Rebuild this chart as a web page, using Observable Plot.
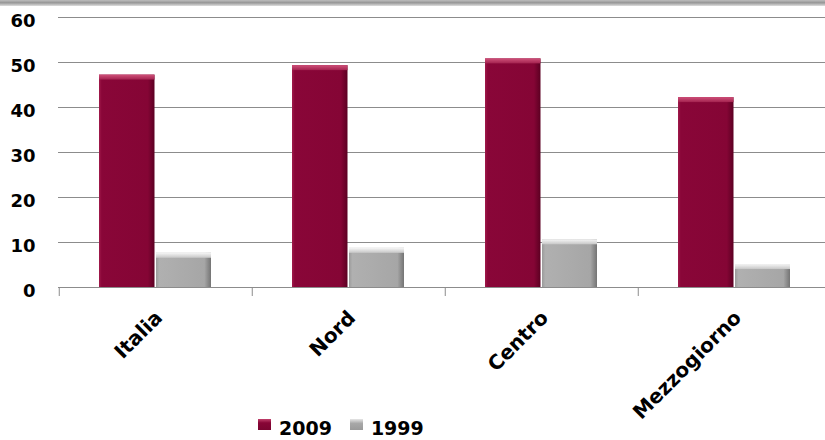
<!DOCTYPE html>
<html>
<head>
<meta charset="utf-8">
<script src="https://cdn.jsdelivr.net/npm/d3@7"></script>
<script src="https://cdn.jsdelivr.net/npm/@observablehq/plot@0.6"></script>
<style>
  body { margin: 0; background: #fff; width: 825px; height: 440px; overflow: hidden; position: relative; font-family: "DejaVu Sans", sans-serif; }
  #chart { position: absolute; left: 0; top: 0; }
  #topband { position: absolute; left: 0; top: 0; width: 825px; height: 6px; background: linear-gradient(#bdbdbd, #979797 45%, #dedede); }
  #legend { position: absolute; left: 258px; top: 419px; display: flex; align-items: flex-start; }
  .sw { width: 13px; height: 11px; margin-top: 0px; margin-right: 8px; }
  .lt { font-weight: bold; font-size: 19px; line-height: 19px; color: #000; margin-right: 18px; }
</style>
</head>
<body>
<svg width="0" height="0" style="position:absolute">
  <defs>
    <linearGradient id="g2009" x1="0" x2="1" y1="0" y2="0">
      <stop offset="0" stop-color="#a01a4b"/>
      <stop offset="0.05" stop-color="#890638"/>
      <stop offset="0.88" stop-color="#850535"/>
      <stop offset="1" stop-color="#5c0022"/>
    </linearGradient>
    <linearGradient id="g2009top" x1="0" x2="0" y1="0" y2="1">
      <stop offset="0" stop-color="#d0517a"/>
      <stop offset="1" stop-color="#a3224f"/>
    </linearGradient>
    <linearGradient id="g1999" x1="0" x2="1" y1="0" y2="0">
      <stop offset="0" stop-color="#9a9a9a"/>
      <stop offset="0.06" stop-color="#b0b0b0"/>
      <stop offset="0.88" stop-color="#a6a6a6"/>
      <stop offset="1" stop-color="#747474"/>
    </linearGradient>
    <linearGradient id="g1999top" x1="0" x2="0" y1="0" y2="1">
      <stop offset="0" stop-color="#f6f6f6"/>
      <stop offset="1" stop-color="#c6c6c6"/>
    </linearGradient>
  </defs>
</svg>
<div id="chart"></div>
<div id="topband"></div>
<div id="legend"></div>
<script>
const categories = ["Italia", "Nord", "Centro", "Mezzogiorno"];
const values2009 = [47.2, 49.3, 50.8, 42.2];
const values1999 = [7.6, 8.7, 10.6, 5.1];
const series = ["2009", "1999"];
const yTicks = [0, 10, 20, 30, 40, 50, 60];

const rows2009 = categories.map((c, i) => ({category: c, value: values2009[i]}));
const rows1999 = categories.map((c, i) => ({category: c, value: values1999[i]}));

const xRange = [58, 832];
const bandHalf = (xRange[1] - xRange[0]) / categories.length / 2;

const chart = Plot.plot({
  width: 825,
  height: 412,
  marginTop: 17,
  marginBottom: 125,
  marginLeft: 58,
  marginRight: 0,
  style: {fontFamily: "DejaVu Sans", fontWeight: "bold", color: "#000", background: "transparent", overflow: "visible"},
  x: {domain: categories, range: xRange, padding: 0, axis: null},
  y: {domain: [0, 60], label: null},
  marks: [
    Plot.gridY({ticks: yTicks, stroke: "#8c8c8c", strokeOpacity: 1, strokeWidth: 1}),
    Plot.ruleX(categories, {x: d => d, dx: -bandHalf, y1: 0, y2: -2, stroke: "#8c8c8c", strokeWidth: 1}),
    Plot.barY(rows2009, {x: "category", y: "value", insetLeft: 40, insetRight: 97.5, fill: "url(#g2009)"}),
    Plot.barY(rows2009, {x: "category", y1: "value", y2: "value", insetBottom: -5, insetLeft: 40, insetRight: 97.5, fill: "url(#g2009top)"}),
    Plot.barY(rows1999, {x: "category", y: "value", insetLeft: 97, insetRight: 41, fill: "url(#g1999)"}),
    Plot.barY(rows1999, {x: "category", y1: "value", y2: "value", insetBottom: -5, insetLeft: 97, insetRight: 41, fill: "url(#g1999top)"}),
    Plot.axisY({ticks: yTicks, tickSize: 0, tickPadding: 23, fontSize: 18, dy: 4, label: null}),
    Plot.text(categories, {x: d => d, y: 0, text: d => d, rotate: -45, textAnchor: "end", lineAnchor: "middle", dx: 3, dy: 27, fontSize: 20, fill: "#000"})
  ]
});
document.getElementById("chart").appendChild(chart);

const legendFills = {
  "2009": "linear-gradient(#c2416c, #870536 35%, #7a0430)",
  "1999": "linear-gradient(#e6e6e6, #a8a8a8 40%, #9a9a9a)"
};
const legend = document.getElementById("legend");
series.forEach(s => {
  const sw = document.createElement("div");
  sw.className = "sw";
  sw.style.background = legendFills[s];
  const t = document.createElement("div");
  t.className = "lt";
  t.textContent = s;
  legend.appendChild(sw);
  legend.appendChild(t);
});
</script>
</body>
</html>
